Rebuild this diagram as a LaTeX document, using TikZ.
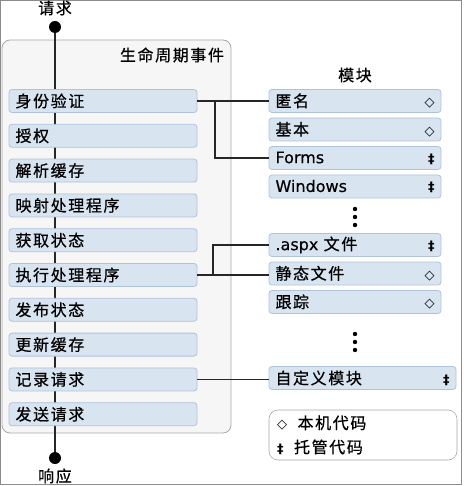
\documentclass[tikz,border=0pt]{standalone}
\usepackage{fontspec}
\setmainfont{DejaVu Sans}[FakeBold=0.4]
\newfontfamily\cjk[LetterSpace=10,FakeBold=0.6]{Noto Sans CJK SC}
\newfontfamily\symfont{DejaVu Sans}
\usetikzlibrary{positioning}
\definecolor{evfill}{HTML}{D9E4F1}
\definecolor{evline}{HTML}{AFC2DA}
\definecolor{boxfill}{HTML}{F6F6F6}
\definecolor{boxline}{HTML}{A8A8A8}
\newcommand{\natsym}{{\symfont\bfseries\fontsize{13}{13}\selectfont ◇}}
\newcommand{\mansym}{{\symfont\bfseries\fontsize{13}{13}\selectfont ‡}}
\tikzset{
  event/.style={draw=evline, fill=evfill, rounded corners=3pt, minimum height=23pt,
    line width=0.8pt, text width=175pt, inner xsep=6.5pt, inner ysep=0pt, align=left,
    font=\cjk\fontsize{16}{18}\selectfont},
  module/.style={event, text width=159pt},
  lifebox/.style={draw=boxline, fill=boxfill, rounded corners=8pt, line width=0.8pt},
  caption/.style={font=\cjk\fontsize{16}{18}\selectfont, inner sep=1pt},
  flow/.style={line width=1.3pt, black!85},
  enddot/.style={circle, fill=black, inner sep=0pt, minimum size=12pt}
}
\begin{document}
\begin{tikzpicture}[x=1pt, y=1pt, node distance=34.8pt]
  \useasboundingbox (0,0) rectangle (463,-486);
  \draw[black!45] (0.5,-0.5) rectangle (461.5,-484.5);
  % lifecycle events
  \node[lifebox, minimum width=229pt, minimum height=393pt] (life) at (116.5,-236.5) {};
  \node[caption] (lifetitle) at (172,-55) {生命周期事件};
  \node[caption] (request) at (55,-8) {请求};
  \node[caption] (response) at (55,-476) {响应};
  \node[enddot] (reqdot) at (55,-27) {};
  \node[enddot] (respdot) at (55,-458) {};
  \draw[flow] (reqdot) -- (respdot);
  \node[event] (auth) at (103,-101) {身份验证};
  \node[event, below of=auth] (authz) {授权};
  \node[event, below of=authz] (resolve) {解析缓存};
  \node[event, below of=resolve] (maphandler) {映射处理程序};
  \node[event, below of=maphandler] (acquire) {获取状态};
  \node[event, below of=acquire] (exec) {执行处理程序};
  \node[event, below of=exec] (release) {发布状态};
  \node[event, below of=release] (update) {更新缓存};
  \node[event, below of=update] (log) {记录请求};
  \node[event, below of=log] (send) {发送请求};
  % modules
  \node[caption] (modtitle) at (355,-75) {模块};
  \begin{scope}[node distance=28.5pt]
    \node[module] (anon) at (355,-101) {匿名\hfill\natsym};
    \node[module, below of=anon] (basic) {基本\hfill\natsym};
    \node[module, below of=basic] (forms) {\rmfamily Forms\hfill\mansym};
    \node[module, below of=forms] (windows) {\rmfamily Windows\hfill\mansym};
    \node[module] (aspx) at (355,-245) {{\rmfamily .aspx} 文件\hfill\mansym};
    \node[module, below of=aspx] (static) {静态文件\hfill\natsym};
    \node[module, below of=static] (trace) {跟踪\hfill\natsym};
  \end{scope}
  \node[module, text width=174pt] (custom) at (362.5,-378) {自定义模块\hfill\mansym};
  \foreach \y in {209,217,225,334,342,350}
    \fill (355,-\y) circle (2.2pt);
  % legend
  \node[lifebox, line width=0.6pt, fill=white, rounded corners=9pt,
    minimum width=188pt, minimum height=50pt] (legend) at (363,-435) {};
  \node[caption, anchor=west] (natkey) at (276,-423) {\natsym\ \ 本机代码};
  \node[caption, anchor=west] (mankey) at (276,-447) {\mansym\ \ 托管代码};
  % connectors
  \coordinate (authjoin) at (215,-101);
  \coordinate (execjoin) at (213,-275.6);
  \draw[flow] (auth) -- (anon);
  \draw[flow] (authjoin) |- (forms);
  \draw[flow] (exec) -- (exec -| static.west);
  \draw[flow] (execjoin) |- (aspx);
  \draw[flow] (log) -- (log -| custom.west);
\end{tikzpicture}
\end{document}
